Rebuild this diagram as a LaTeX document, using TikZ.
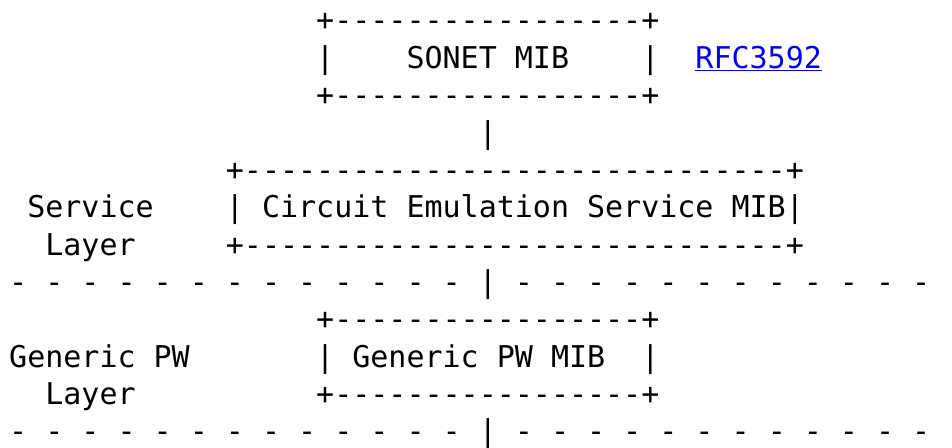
\documentclass[tikz,border=0pt]{standalone}
\usepackage{fontspec}
\setmonofont{DejaVu Sans Mono}
\definecolor{linkblue}{RGB}{0,0,238}
\begin{document}
\begin{tikzpicture}[
  asc/.style={anchor=base west, inner sep=0pt, outer sep=0pt,
              font=\ttfamily\fontsize{30}{36}\selectfont, text=black},
  linktext/.style={asc, text=linkblue}]
% page frame (the long dashed rules run past the right edge)
\path[use as bounding box] (0pt,0pt) rectangle (952pt,-447pt);
\clip (0pt,0pt) rectangle (952pt,-447pt);
% character grid: one unit = one column / one text line
\begin{scope}[shift={(9.2pt,-30.95pt)}, x=18.06pt, y={(0pt,-37.35pt)}]
  % SONET MIB box
  \node[asc] (sonetTop) at (17,0) {+-----------------+};
  \node[asc] (sonetL)   at (17,1) {|};
  \node[asc] (sonet)    at (22,1) {SONET MIB};
  \node[asc] (sonetR)   at (35,1) {|};
  \node[linktext] (rfc) at (38,1) {RFC3592};
  \node[asc] (sonetBot) at (17,2) {+-----------------+};
  \node[asc] (link1)    at (26,3) {|};
  % Circuit Emulation Service MIB box
  \node[asc] (cesTop)   at (12,4) {+------------------------------+};
  \node[asc] (svc)      at (1,5)  {Service};
  \node[asc] (cesL)     at (12,5) {|};
  \node[asc] (ces)      at (14,5) {Circuit Emulation Service MIB};
  \node[asc] (cesR)     at (43,5) {|};
  \node[asc] (svcLayer) at (2,6)  {Layer};
  \node[asc] (cesBot)   at (12,6) {+------------------------------+};
  % layer boundary
  \node[asc] (sep1)     at (0,7)  {- - - - - - - - - - - - - | - - - - - - - - - - - - -};
  % Generic PW MIB box
  \node[asc] (pwTop)    at (17,8) {+-----------------+};
  \node[asc] (gpw)      at (0,9)  {Generic PW};
  \node[asc] (pwL)      at (17,9) {|};
  \node[asc] (pw)       at (19,9) {Generic PW MIB};
  \node[asc] (pwR)      at (35,9) {|};
  \node[asc] (gpwLayer) at (2,10) {Layer};
  \node[asc] (pwBot)    at (17,10) {+-----------------+};
  % layer boundary
  \node[asc] (sep2)     at (0,11) {- - - - - - - - - - - - - | - - - - - - - - - - - - -};
\end{scope}
% link underline
\draw[linkblue, line width=1.6pt]
  ([yshift=-2pt]rfc.base west) -- ([yshift=-2pt]rfc.base east);
\end{tikzpicture}
\end{document}
